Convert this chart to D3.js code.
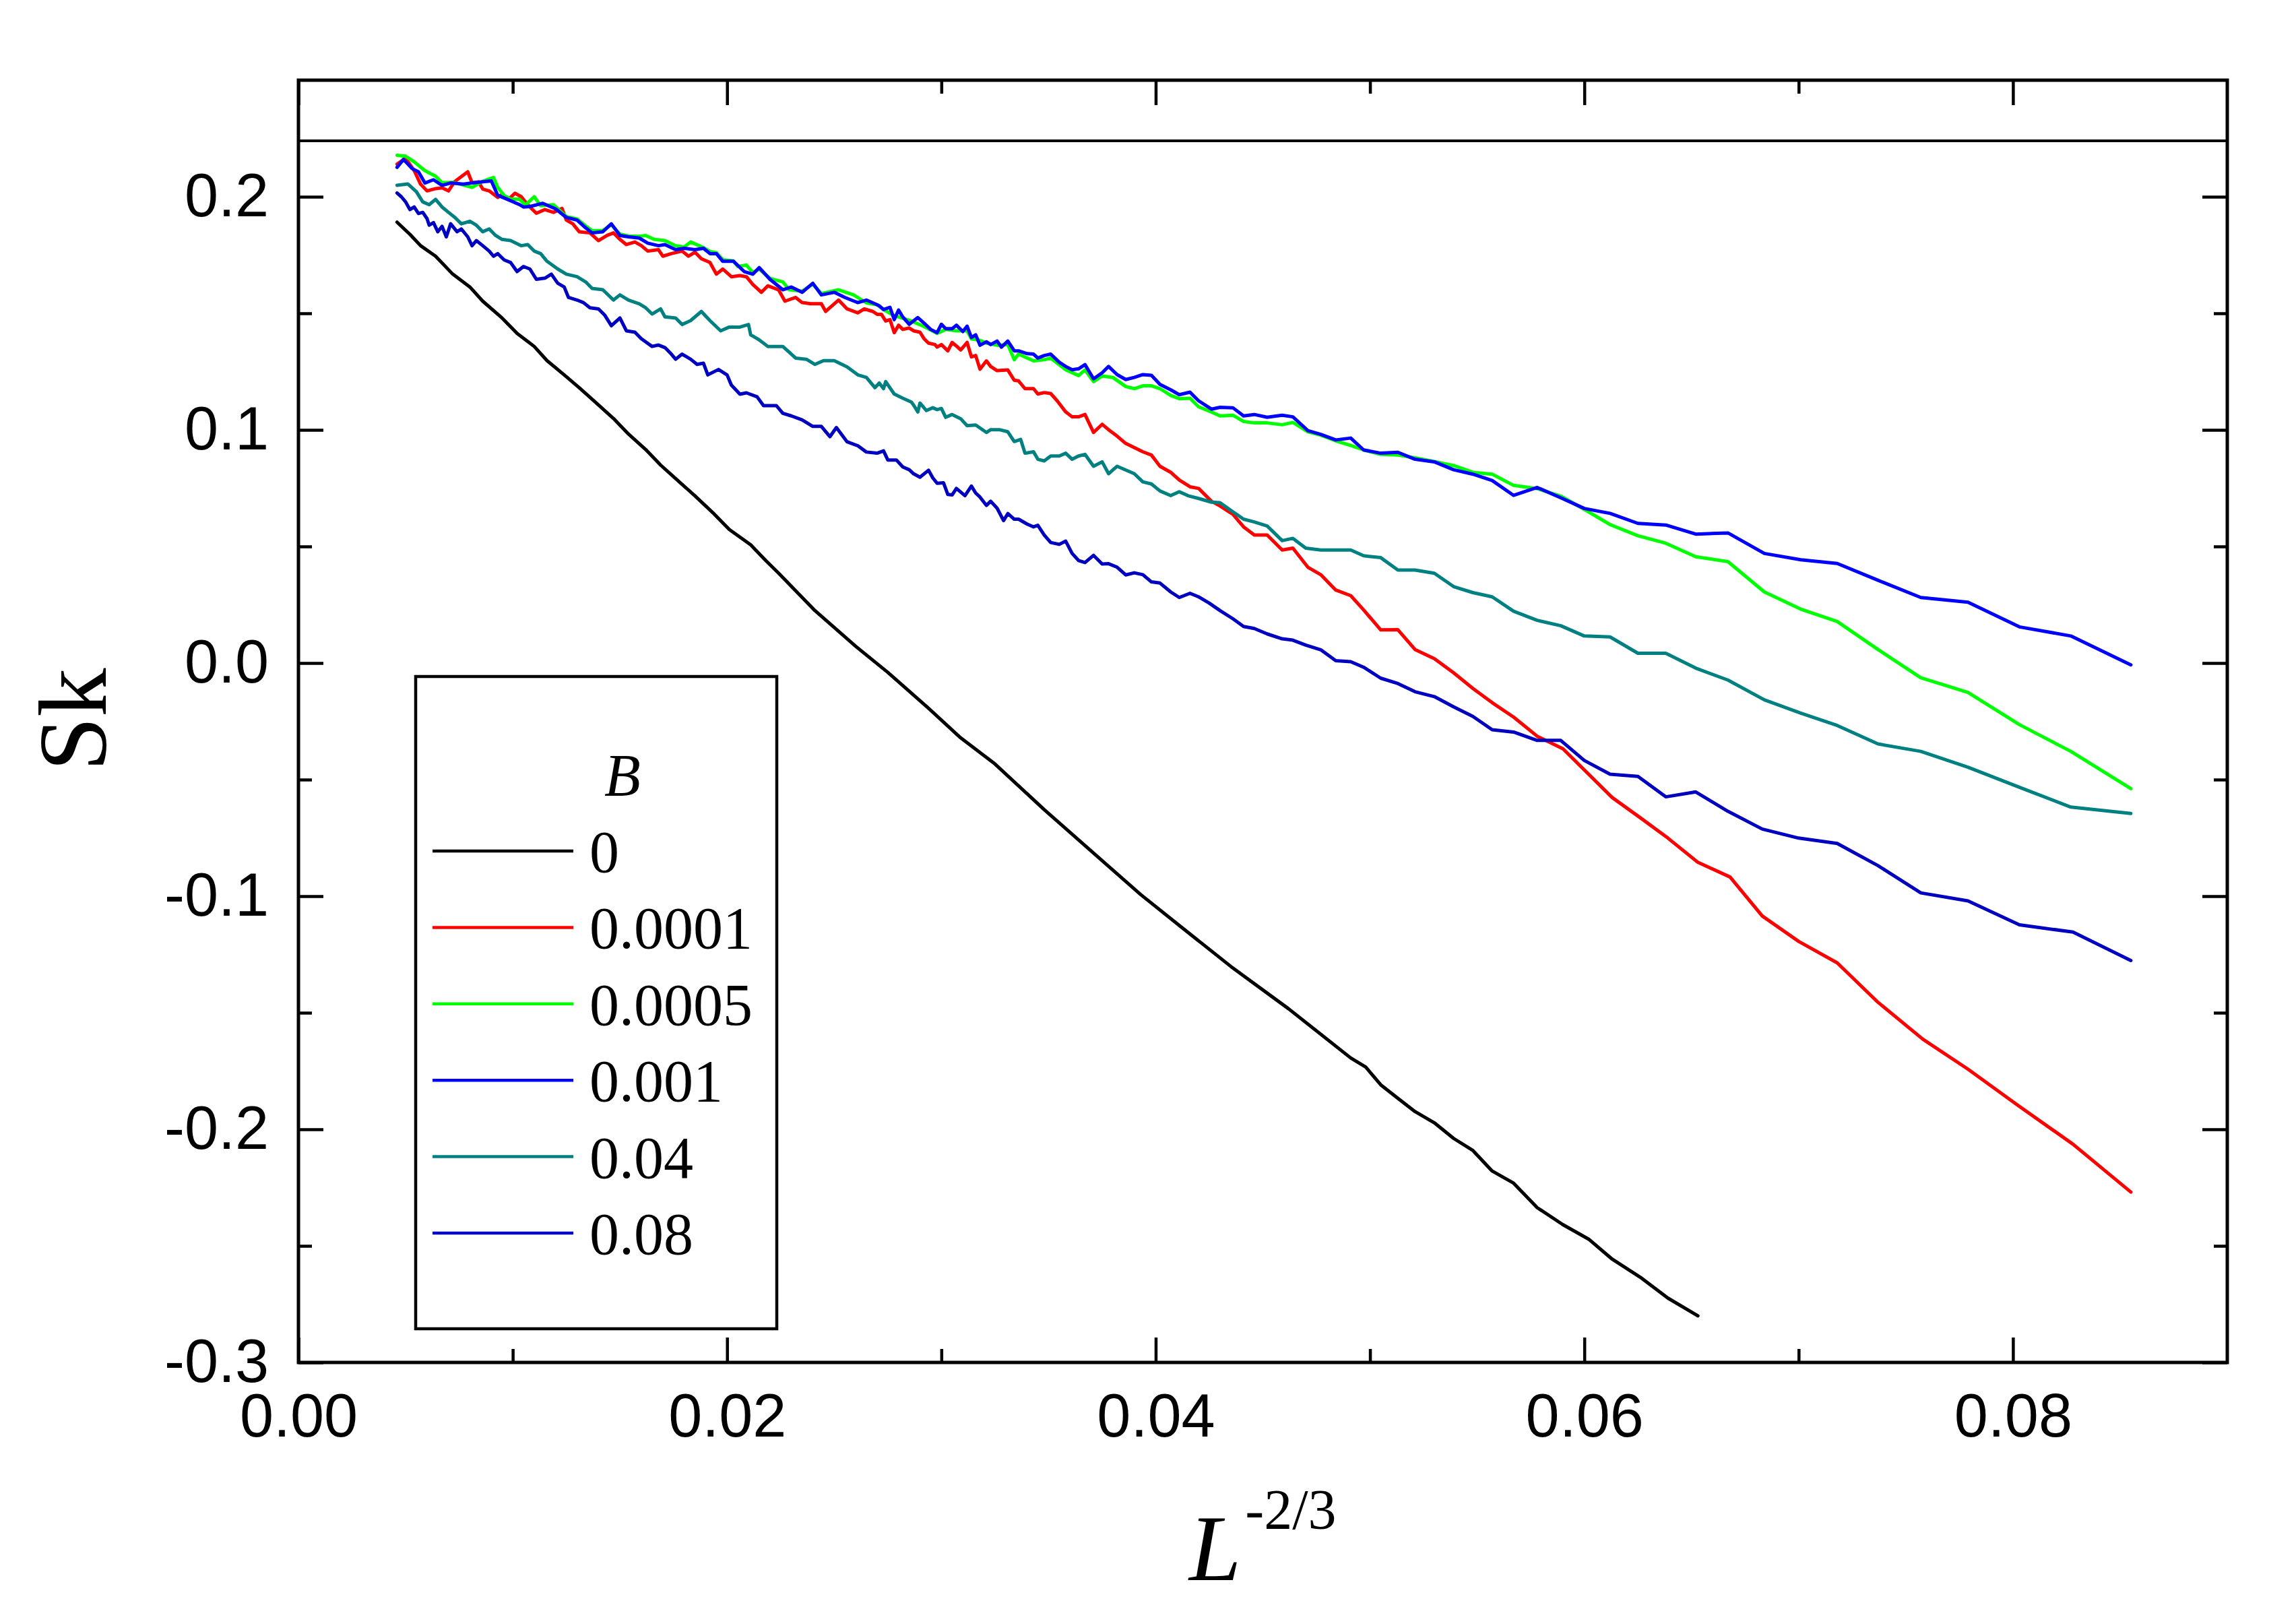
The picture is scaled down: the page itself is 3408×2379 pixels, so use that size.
<!DOCTYPE html>
<html><head><meta charset="utf-8">
<script src="https://cdn.jsdelivr.net/npm/d3@7"></script>
<style>html,body{margin:0;padding:0;background:#fff;} svg{display:block;}</style>
</head><body>
<svg id="chart" width="3408" height="2379"></svg>
<script>
// ---------------- data ----------------
const legendTitle = "B";
const seriesNames = ["0", "0.0001", "0.0005", "0.001", "0.04", "0.08"];
const seriesColors = ["#000000", "#ff0000", "#00ff00", "#0000ff", "#008080", "#0000c0"];

const sk_B0 = [[0.0046,0.1891],[0.0052,0.1839],[0.0057,0.1790],[0.0064,0.1745],[0.0072,0.1668],[0.0080,0.1613],[0.0086,0.1552],[0.0095,0.1480],[0.0102,0.1414],[0.0110,0.1358],[0.0116,0.1297],[0.0124,0.1236],[0.0131,0.1181],[0.0139,0.1115],[0.0147,0.1049],[0.0154,0.0982],[0.0162,0.0916],[0.0169,0.0849],[0.0177,0.0783],[0.0185,0.0717],[0.0194,0.0639],[0.0201,0.0573],[0.0211,0.0507],[0.0218,0.0440],[0.0224,0.0386],[0.0241,0.0225],[0.0260,0.0072],[0.0275,-0.0040],[0.0294,-0.0194],[0.0309,-0.0321],[0.0325,-0.0433],[0.0348,-0.0629],[0.0367,-0.0783],[0.0393,-0.0993],[0.0412,-0.1133],[0.0435,-0.1301],[0.0462,-0.1483],[0.0491,-0.1694],[0.0498,-0.1733],[0.0505,-0.1809],[0.0513,-0.1867],[0.0521,-0.1924],[0.0530,-0.1972],[0.0539,-0.2039],[0.0548,-0.2091],[0.0557,-0.2179],[0.0567,-0.2231],[0.0578,-0.2336],[0.0590,-0.2409],[0.0602,-0.2471],[0.0613,-0.2557],[0.0626,-0.2634],[0.0639,-0.2724],[0.0653,-0.2800]];

const sk_B0001 = [[0.0046,0.2140],[0.0050,0.2165],[0.0054,0.2112],[0.0057,0.2054],[0.0060,0.2025],[0.0064,0.2035],[0.0067,0.2038],[0.0070,0.2025],[0.0073,0.2066],[0.0079,0.2107],[0.0081,0.2060],[0.0084,0.2064],[0.0086,0.2033],[0.0089,0.2025],[0.0093,0.1997],[0.0095,0.2011],[0.0098,0.1989],[0.0101,0.2015],[0.0104,0.2000],[0.0106,0.1977],[0.0108,0.1956],[0.0111,0.1929],[0.0115,0.1945],[0.0119,0.1933],[0.0123,0.1950],[0.0125,0.1900],[0.0128,0.1884],[0.0131,0.1850],[0.0136,0.1845],[0.0140,0.1812],[0.0144,0.1834],[0.0147,0.1845],[0.0150,0.1817],[0.0153,0.1795],[0.0157,0.1806],[0.0160,0.1790],[0.0163,0.1767],[0.0168,0.1773],[0.0170,0.1745],[0.0174,0.1756],[0.0179,0.1767],[0.0182,0.1745],[0.0185,0.1762],[0.0188,0.1734],[0.0192,0.1718],[0.0195,0.1668],[0.0198,0.1690],[0.0202,0.1657],[0.0206,0.1662],[0.0209,0.1657],[0.0212,0.1624],[0.0216,0.1590],[0.0219,0.1618],[0.0224,0.1601],[0.0227,0.1552],[0.0232,0.1568],[0.0235,0.1546],[0.0239,0.1541],[0.0244,0.1541],[0.0246,0.1508],[0.0252,0.1557],[0.0256,0.1519],[0.0261,0.1502],[0.0264,0.1519],[0.0268,0.1508],[0.0270,0.1496],[0.0272,0.1496],[0.0274,0.1467],[0.0276,0.1473],[0.0278,0.1417],[0.0280,0.1449],[0.0282,0.1431],[0.0285,0.1437],[0.0287,0.1425],[0.0290,0.1419],[0.0292,0.1390],[0.0294,0.1372],[0.0297,0.1366],[0.0298,0.1355],[0.0300,0.1366],[0.0303,0.1339],[0.0305,0.1375],[0.0307,0.1360],[0.0309,0.1343],[0.0312,0.1375],[0.0314,0.1313],[0.0316,0.1319],[0.0318,0.1260],[0.0321,0.1296],[0.0323,0.1272],[0.0326,0.1254],[0.0331,0.1257],[0.0334,0.1213],[0.0336,0.1210],[0.0339,0.1177],[0.0343,0.1177],[0.0345,0.1154],[0.0348,0.1160],[0.0351,0.1156],[0.0354,0.1125],[0.0358,0.1077],[0.0361,0.1056],[0.0364,0.1056],[0.0367,0.1066],[0.0371,0.0989],[0.0375,0.1024],[0.0378,0.1001],[0.0382,0.0973],[0.0386,0.0942],[0.0390,0.0924],[0.0394,0.0906],[0.0398,0.0892],[0.0402,0.0844],[0.0407,0.0818],[0.0411,0.0785],[0.0416,0.0756],[0.0420,0.0749],[0.0426,0.0694],[0.0430,0.0674],[0.0436,0.0638],[0.0441,0.0584],[0.0446,0.0549],[0.0452,0.0549],[0.0459,0.0485],[0.0464,0.0493],[0.0471,0.0411],[0.0477,0.0379],[0.0484,0.0313],[0.0491,0.0289],[0.0497,0.0228],[0.0505,0.0142],[0.0513,0.0143],[0.0521,0.0058],[0.0530,0.0019],[0.0539,-0.0042],[0.0548,-0.0109],[0.0557,-0.0170],[0.0567,-0.0232],[0.0578,-0.0314],[0.0590,-0.0368],[0.0602,-0.0477],[0.0613,-0.0577],[0.0626,-0.0663],[0.0639,-0.0751],[0.0653,-0.0855],[0.0668,-0.0918],[0.0683,-0.1085],[0.0700,-0.1194],[0.0718,-0.1286],[0.0737,-0.1455],[0.0758,-0.1614],[0.0779,-0.1742],[0.0802,-0.1895],[0.0828,-0.2064],[0.0855,-0.2269]];

const sk_B0005 = [[0.0046,0.2178],[0.0050,0.2174],[0.0054,0.2150],[0.0059,0.2112],[0.0064,0.2088],[0.0067,0.2060],[0.0072,0.2062],[0.0077,0.2050],[0.0081,0.2040],[0.0086,0.2066],[0.0091,0.2083],[0.0093,0.2040],[0.0096,0.2005],[0.0099,0.1990],[0.0103,0.1990],[0.0106,0.1965],[0.0110,0.2000],[0.0113,0.1962],[0.0119,0.1966],[0.0125,0.1915],[0.0130,0.1905],[0.0134,0.1875],[0.0137,0.1855],[0.0142,0.1855],[0.0146,0.1880],[0.0150,0.1840],[0.0154,0.1832],[0.0159,0.1830],[0.0162,0.1834],[0.0166,0.1817],[0.0171,0.1812],[0.0176,0.1790],[0.0180,0.1785],[0.0183,0.1806],[0.0189,0.1782],[0.0192,0.1765],[0.0195,0.1760],[0.0198,0.1730],[0.0203,0.1725],[0.0205,0.1701],[0.0209,0.1707],[0.0212,0.1675],[0.0215,0.1690],[0.0220,0.1650],[0.0226,0.1635],[0.0229,0.1601],[0.0235,0.1595],[0.0240,0.1625],[0.0244,0.1585],[0.0252,0.1601],[0.0259,0.1579],[0.0265,0.1545],[0.0270,0.1537],[0.0273,0.1516],[0.0278,0.1490],[0.0286,0.1467],[0.0292,0.1443],[0.0298,0.1414],[0.0302,0.1431],[0.0307,0.1425],[0.0312,0.1425],[0.0314,0.1390],[0.0318,0.1384],[0.0321,0.1372],[0.0326,0.1363],[0.0331,0.1366],[0.0334,0.1301],[0.0336,0.1325],[0.0343,0.1296],[0.0348,0.1301],[0.0351,0.1308],[0.0358,0.1258],[0.0364,0.1233],[0.0367,0.1257],[0.0371,0.1207],[0.0375,0.1231],[0.0380,0.1225],[0.0386,0.1186],[0.0390,0.1177],[0.0394,0.1189],[0.0398,0.1189],[0.0402,0.1177],[0.0407,0.1148],[0.0411,0.1134],[0.0416,0.1136],[0.0420,0.1099],[0.0426,0.1077],[0.0430,0.1060],[0.0436,0.1063],[0.0441,0.1036],[0.0446,0.1030],[0.0452,0.1030],[0.0459,0.1022],[0.0464,0.1032],[0.0471,0.0992],[0.0477,0.0977],[0.0484,0.0953],[0.0491,0.0933],[0.0497,0.0914],[0.0505,0.0895],[0.0513,0.0892],[0.0521,0.0880],[0.0530,0.0864],[0.0539,0.0847],[0.0548,0.0818],[0.0557,0.0810],[0.0567,0.0762],[0.0578,0.0748],[0.0589,0.0716],[0.0600,0.0659],[0.0612,0.0594],[0.0625,0.0546],[0.0638,0.0514],[0.0652,0.0456],[0.0667,0.0435],[0.0684,0.0305],[0.0701,0.0231],[0.0718,0.0178],[0.0737,0.0058],[0.0757,-0.0063],[0.0779,-0.0126],[0.0803,-0.0264],[0.0827,-0.0379],[0.0855,-0.0539]];

const sk_B001 = [[0.0046,0.2126],[0.0049,0.2160],[0.0053,0.2121],[0.0056,0.2107],[0.0059,0.2059],[0.0063,0.2073],[0.0067,0.2049],[0.0071,0.2059],[0.0077,0.2054],[0.0081,0.2059],[0.0086,0.2064],[0.0090,0.2068],[0.0093,0.2006],[0.0097,0.1991],[0.0099,0.1983],[0.0103,0.1967],[0.0105,0.1956],[0.0108,0.1958],[0.0114,0.1972],[0.0120,0.1948],[0.0125,0.1911],[0.0130,0.1900],[0.0134,0.1867],[0.0137,0.1845],[0.0142,0.1850],[0.0146,0.1884],[0.0150,0.1834],[0.0154,0.1828],[0.0159,0.1823],[0.0163,0.1801],[0.0168,0.1790],[0.0171,0.1795],[0.0176,0.1773],[0.0180,0.1779],[0.0185,0.1773],[0.0189,0.1779],[0.0192,0.1756],[0.0195,0.1756],[0.0198,0.1723],[0.0203,0.1723],[0.0208,0.1679],[0.0212,0.1668],[0.0215,0.1696],[0.0220,0.1646],[0.0226,0.1601],[0.0230,0.1613],[0.0235,0.1590],[0.0240,0.1629],[0.0244,0.1579],[0.0250,0.1590],[0.0255,0.1568],[0.0261,0.1546],[0.0265,0.1557],[0.0270,0.1537],[0.0271,0.1532],[0.0273,0.1516],[0.0276,0.1526],[0.0278,0.1473],[0.0280,0.1514],[0.0282,0.1484],[0.0285,0.1453],[0.0289,0.1482],[0.0292,0.1457],[0.0295,0.1431],[0.0298,0.1417],[0.0300,0.1453],[0.0302,0.1434],[0.0305,0.1434],[0.0307,0.1449],[0.0310,0.1422],[0.0312,0.1445],[0.0314,0.1396],[0.0316,0.1408],[0.0318,0.1363],[0.0321,0.1378],[0.0323,0.1366],[0.0326,0.1381],[0.0328,0.1355],[0.0331,0.1381],[0.0334,0.1339],[0.0336,0.1339],[0.0340,0.1327],[0.0343,0.1325],[0.0345,0.1308],[0.0348,0.1319],[0.0351,0.1325],[0.0355,0.1290],[0.0358,0.1272],[0.0361,0.1258],[0.0364,0.1262],[0.0367,0.1280],[0.0371,0.1219],[0.0375,0.1245],[0.0378,0.1272],[0.0382,0.1237],[0.0386,0.1216],[0.0390,0.1225],[0.0394,0.1237],[0.0398,0.1234],[0.0402,0.1195],[0.0407,0.1172],[0.0411,0.1151],[0.0416,0.1162],[0.0420,0.1125],[0.0426,0.1089],[0.0430,0.1097],[0.0436,0.1095],[0.0441,0.1060],[0.0446,0.1066],[0.0452,0.1054],[0.0459,0.1063],[0.0464,0.1056],[0.0471,0.0997],[0.0477,0.0981],[0.0484,0.0957],[0.0491,0.0965],[0.0497,0.0914],[0.0505,0.0900],[0.0513,0.0904],[0.0521,0.0874],[0.0530,0.0863],[0.0539,0.0829],[0.0548,0.0810],[0.0557,0.0783],[0.0567,0.0719],[0.0578,0.0753],[0.0589,0.0709],[0.0600,0.0663],[0.0612,0.0642],[0.0625,0.0599],[0.0638,0.0592],[0.0652,0.0553],[0.0667,0.0558],[0.0684,0.0470],[0.0701,0.0443],[0.0718,0.0427],[0.0737,0.0355],[0.0757,0.0281],[0.0779,0.0261],[0.0803,0.0155],[0.0827,0.0116],[0.0855,-0.0008]];

const sk_B04 = [[0.0046,0.2049],[0.0051,0.2055],[0.0055,0.2022],[0.0058,0.1978],[0.0061,0.1966],[0.0064,0.1989],[0.0067,0.1956],[0.0070,0.1933],[0.0073,0.1911],[0.0076,0.1884],[0.0080,0.1895],[0.0083,0.1878],[0.0086,0.1850],[0.0089,0.1862],[0.0092,0.1834],[0.0095,0.1817],[0.0099,0.1812],[0.0104,0.1790],[0.0107,0.1795],[0.0110,0.1767],[0.0113,0.1756],[0.0116,0.1723],[0.0121,0.1690],[0.0125,0.1668],[0.0130,0.1657],[0.0134,0.1635],[0.0137,0.1607],[0.0142,0.1601],[0.0147,0.1557],[0.0150,0.1579],[0.0154,0.1557],[0.0159,0.1541],[0.0162,0.1524],[0.0165,0.1497],[0.0169,0.1519],[0.0171,0.1485],[0.0176,0.1480],[0.0179,0.1452],[0.0183,0.1469],[0.0188,0.1508],[0.0192,0.1469],[0.0197,0.1425],[0.0201,0.1441],[0.0206,0.1441],[0.0210,0.1452],[0.0211,0.1408],[0.0215,0.1386],[0.0219,0.1358],[0.0226,0.1358],[0.0232,0.1308],[0.0237,0.1303],[0.0241,0.1281],[0.0245,0.1297],[0.0250,0.1297],[0.0256,0.1270],[0.0261,0.1236],[0.0265,0.1225],[0.0269,0.1181],[0.0271,0.1201],[0.0273,0.1177],[0.0274,0.1207],[0.0278,0.1154],[0.0282,0.1136],[0.0286,0.1119],[0.0287,0.1107],[0.0289,0.1077],[0.0290,0.1115],[0.0293,0.1083],[0.0296,0.1095],[0.0298,0.1087],[0.0300,0.1092],[0.0302,0.1054],[0.0305,0.1066],[0.0309,0.1048],[0.0312,0.1018],[0.0316,0.1021],[0.0321,0.0989],[0.0323,0.1001],[0.0327,0.1001],[0.0331,0.0992],[0.0334,0.0950],[0.0337,0.0959],[0.0339,0.0900],[0.0343,0.0906],[0.0345,0.0874],[0.0348,0.0867],[0.0351,0.0888],[0.0355,0.0888],[0.0358,0.0900],[0.0361,0.0874],[0.0364,0.0888],[0.0367,0.0895],[0.0371,0.0844],[0.0375,0.0863],[0.0378,0.0812],[0.0382,0.0844],[0.0390,0.0812],[0.0394,0.0777],[0.0398,0.0768],[0.0402,0.0738],[0.0407,0.0718],[0.0411,0.0735],[0.0415,0.0718],[0.0420,0.0706],[0.0426,0.0690],[0.0430,0.0688],[0.0436,0.0649],[0.0441,0.0617],[0.0446,0.0605],[0.0452,0.0588],[0.0459,0.0525],[0.0464,0.0535],[0.0470,0.0493],[0.0477,0.0485],[0.0491,0.0485],[0.0497,0.0460],[0.0505,0.0452],[0.0513,0.0399],[0.0521,0.0399],[0.0530,0.0385],[0.0539,0.0328],[0.0548,0.0302],[0.0557,0.0284],[0.0567,0.0222],[0.0578,0.0183],[0.0589,0.0160],[0.0600,0.0116],[0.0612,0.0112],[0.0625,0.0042],[0.0638,0.0042],[0.0652,-0.0022],[0.0667,-0.0073],[0.0684,-0.0158],[0.0701,-0.0215],[0.0718,-0.0268],[0.0737,-0.0347],[0.0757,-0.0379],[0.0779,-0.0447],[0.0803,-0.0533],[0.0827,-0.0618],[0.0855,-0.0645]];

const sk_B08 = [[0.0046,0.2016],[0.0048,0.2000],[0.0050,0.1978],[0.0052,0.1945],[0.0054,0.1956],[0.0056,0.1928],[0.0058,0.1933],[0.0060,0.1906],[0.0061,0.1878],[0.0063,0.1889],[0.0065,0.1850],[0.0067,0.1873],[0.0069,0.1828],[0.0071,0.1884],[0.0074,0.1850],[0.0076,0.1862],[0.0079,0.1828],[0.0081,0.1790],[0.0083,0.1812],[0.0086,0.1790],[0.0089,0.1767],[0.0091,0.1745],[0.0093,0.1756],[0.0096,0.1729],[0.0099,0.1718],[0.0102,0.1679],[0.0105,0.1701],[0.0108,0.1690],[0.0111,0.1646],[0.0115,0.1651],[0.0118,0.1668],[0.0121,0.1629],[0.0124,0.1613],[0.0126,0.1568],[0.0130,0.1557],[0.0133,0.1546],[0.0136,0.1524],[0.0140,0.1519],[0.0143,0.1491],[0.0146,0.1447],[0.0150,0.1480],[0.0153,0.1425],[0.0157,0.1419],[0.0160,0.1391],[0.0165,0.1358],[0.0168,0.1364],[0.0171,0.1353],[0.0174,0.1325],[0.0176,0.1303],[0.0179,0.1325],[0.0183,0.1303],[0.0186,0.1281],[0.0189,0.1286],[0.0191,0.1236],[0.0196,0.1259],[0.0200,0.1236],[0.0202,0.1192],[0.0206,0.1153],[0.0209,0.1159],[0.0214,0.1142],[0.0217,0.1104],[0.0223,0.1104],[0.0226,0.1071],[0.0230,0.1060],[0.0235,0.1043],[0.0240,0.1015],[0.0244,0.1015],[0.0248,0.0971],[0.0251,0.1010],[0.0256,0.0949],[0.0261,0.0932],[0.0265,0.0905],[0.0270,0.0900],[0.0273,0.0910],[0.0275,0.0871],[0.0279,0.0871],[0.0282,0.0841],[0.0285,0.0829],[0.0287,0.0812],[0.0290,0.0797],[0.0294,0.0827],[0.0296,0.0794],[0.0298,0.0771],[0.0301,0.0773],[0.0303,0.0723],[0.0305,0.0721],[0.0307,0.0749],[0.0311,0.0718],[0.0314,0.0759],[0.0316,0.0729],[0.0318,0.0712],[0.0321,0.0676],[0.0323,0.0694],[0.0326,0.0664],[0.0329,0.0611],[0.0331,0.0641],[0.0334,0.0617],[0.0336,0.0617],[0.0340,0.0596],[0.0343,0.0584],[0.0345,0.0591],[0.0348,0.0549],[0.0351,0.0517],[0.0355,0.0509],[0.0358,0.0523],[0.0361,0.0470],[0.0364,0.0440],[0.0367,0.0431],[0.0371,0.0462],[0.0375,0.0425],[0.0378,0.0426],[0.0382,0.0411],[0.0386,0.0378],[0.0390,0.0387],[0.0394,0.0379],[0.0398,0.0348],[0.0402,0.0343],[0.0407,0.0305],[0.0411,0.0281],[0.0416,0.0299],[0.0420,0.0284],[0.0425,0.0257],[0.0430,0.0225],[0.0436,0.0190],[0.0441,0.0157],[0.0446,0.0148],[0.0452,0.0125],[0.0459,0.0104],[0.0464,0.0098],[0.0470,0.0077],[0.0477,0.0057],[0.0484,0.0010],[0.0491,0.0006],[0.0497,-0.0018],[0.0505,-0.0065],[0.0513,-0.0088],[0.0521,-0.0123],[0.0530,-0.0144],[0.0539,-0.0188],[0.0548,-0.0229],[0.0557,-0.0286],[0.0567,-0.0296],[0.0578,-0.0332],[0.0589,-0.0332],[0.0600,-0.0418],[0.0612,-0.0477],[0.0625,-0.0486],[0.0638,-0.0574],[0.0652,-0.0553],[0.0667,-0.0636],[0.0683,-0.0712],[0.0700,-0.0751],[0.0718,-0.0774],[0.0737,-0.0869],[0.0757,-0.0986],[0.0779,-0.1020],[0.0803,-0.1123],[0.0828,-0.1154],[0.0855,-0.1276]];

const seriesData = [sk_B0, sk_B0001, sk_B0005, sk_B001, sk_B04, sk_B08];

const xDomain = [0, 0.09];
const yDomain = [-0.3, 0.25];
const xMajorTicks = [0, 0.02, 0.04, 0.06, 0.08];
const xTickLabels = ["0.00", "0.02", "0.04", "0.06", "0.08"];
const xMinorTicks = [0.01, 0.03, 0.05, 0.07];
const yMajorTicks = [-0.3, -0.2, -0.1, 0.0, 0.1, 0.2];
const yTickLabels = ["-0.3", "-0.2", "-0.1", "0.0", "0.1", "0.2"];
const yMinorTicks = [-0.25, -0.15, -0.05, 0.05, 0.15];
const referenceLevel = 0.224;

// ---------------- layout ----------------
const W = 3408, H = 2379;
const plot = {left: 443, right: 3306, top: 119, bottom: 2022};
const svg = d3.select("#chart");
svg.append("rect").attr("width", W).attr("height", H).attr("fill", "#fff");

const x = d3.scaleLinear().domain(xDomain).range([plot.left, plot.right]);
const y = d3.scaleLinear().domain(yDomain).range([plot.bottom, plot.top]);

const sansFont = "'Liberation Sans', Arial, sans-serif";
const serifFont = "'Liberation Serif', 'Times New Roman', serif";
const majorLen = 37, minorLen = 20, tickW = 4.5;

function styleAxis(g) {
  g.select(".domain").remove();
  g.selectAll(".tick line").attr("stroke", "#000").attr("stroke-width", tickW);
  g.selectAll(".tick text").attr("fill", "#000").attr("font-family", sansFont).attr("font-size", 90);
}

// bottom
svg.append("g").attr("transform", `translate(0,${plot.bottom})`)
  .call(d3.axisBottom(x).tickValues(xMajorTicks).tickSize(-majorLen).tickSizeOuter(0).tickPadding(46)
    .tickFormat((d, i) => xTickLabels[i])).call(styleAxis);
svg.append("g").attr("transform", `translate(0,${plot.bottom})`)
  .call(d3.axisBottom(x).tickValues(xMinorTicks).tickSize(-minorLen).tickSizeOuter(0).tickFormat(""))
  .call(styleAxis);
// top
svg.append("g").attr("transform", `translate(0,${plot.top})`)
  .call(d3.axisTop(x).tickValues(xMajorTicks).tickSize(-majorLen).tickSizeOuter(0).tickFormat(""))
  .call(styleAxis);
svg.append("g").attr("transform", `translate(0,${plot.top})`)
  .call(d3.axisTop(x).tickValues(xMinorTicks).tickSize(-minorLen).tickSizeOuter(0).tickFormat(""))
  .call(styleAxis);
// left
svg.append("g").attr("transform", `translate(${plot.left},0)`)
  .call(d3.axisLeft(y).tickValues(yMajorTicks).tickSize(-majorLen).tickSizeOuter(0).tickPadding(44)
    .tickFormat((d, i) => yTickLabels[i])).call(styleAxis);
svg.append("g").attr("transform", `translate(${plot.left},0)`)
  .call(d3.axisLeft(y).tickValues(yMinorTicks).tickSize(-minorLen).tickSizeOuter(0).tickFormat(""))
  .call(styleAxis);
// right
svg.append("g").attr("transform", `translate(${plot.right},0)`)
  .call(d3.axisRight(y).tickValues(yMajorTicks).tickSize(-majorLen).tickSizeOuter(0).tickFormat(""))
  .call(styleAxis);
svg.append("g").attr("transform", `translate(${plot.right},0)`)
  .call(d3.axisRight(y).tickValues(yMinorTicks).tickSize(-minorLen).tickSizeOuter(0).tickFormat(""))
  .call(styleAxis);

// reference horizontal line
svg.append("line")
  .attr("x1", plot.left).attr("x2", plot.right)
  .attr("y1", y(referenceLevel)).attr("y2", y(referenceLevel))
  .attr("stroke", "#000").attr("stroke-width", 4);

// curves
const line = d3.line().x(d => x(d[0])).y(d => y(d[1]));
const curves = svg.append("g").attr("fill", "none").attr("stroke-linejoin", "round").attr("stroke-linecap", "round");
seriesData.forEach((data, i) => {
  curves.append("path").attr("d", line(data))
    .attr("stroke", seriesColors[i]).attr("stroke-width", 5);
});

// frame
svg.append("rect")
  .attr("x", plot.left).attr("y", plot.top)
  .attr("width", plot.right - plot.left).attr("height", plot.bottom - plot.top)
  .attr("fill", "none").attr("stroke", "#000").attr("stroke-width", 5);

// legend
const lg = svg.append("g");
const legBox = {x: 617, y: 1004, w: 536, h: 968};
lg.append("rect").attr("x", legBox.x).attr("y", legBox.y).attr("width", legBox.w).attr("height", legBox.h)
  .attr("fill", "#fff").attr("stroke", "#000").attr("stroke-width", 4.5);
lg.append("text").attr("x", 897).attr("y", 1180)
  .attr("font-family", serifFont).attr("font-style", "italic").attr("font-size", 88).attr("fill", "#000")
  .text(legendTitle);
const legRow0 = 1263, legStep = 113.4;
seriesNames.forEach((name, i) => {
  const yy = legRow0 + i * legStep;
  lg.append("line").attr("x1", 642).attr("x2", 851).attr("y1", yy).attr("y2", yy)
    .attr("stroke", seriesColors[i]).attr("stroke-width", 4.5);
  lg.append("text").attr("x", 875).attr("y", yy + 31)
    .attr("font-family", serifFont).attr("font-size", 88).attr("fill", "#000").text(name);
});

// axis titles
svg.append("text")
  .attr("transform", "translate(157,1068) rotate(-90)")
  .attr("text-anchor", "middle")
  .attr("font-family", serifFont).attr("font-size", 145).attr("fill", "#000")
  .text("Sk");

const xt = svg.append("text").attr("x", 1765).attr("y", 2345)
  .attr("font-family", serifFont).attr("fill", "#000");
xt.append("tspan").attr("font-style", "italic").attr("font-size", 139).text("L");
xt.append("tspan").attr("font-size", 84).attr("dx", 6).attr("dy", -76).text("-2/3");
</script>
</body></html>
